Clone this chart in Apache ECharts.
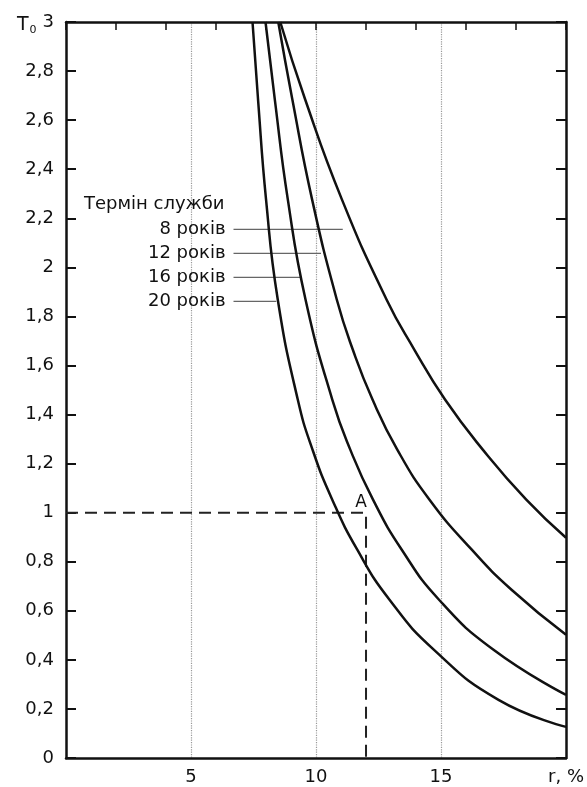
<!DOCTYPE html>
<html>
<head>
<meta charset="utf-8">
<script src="https://cdn.jsdelivr.net/npm/echarts@6/dist/echarts.min.js"></script>
<style>
  html, body { margin: 0; padding: 0; background: #fff; }
  #chart { width: 587px; height: 787px; }
</style>
</head>
<body>
<div id="chart"></div>
<script>
// curves T0(r), one per service life [r %, T0]
var life8 = [[8.57,3.0],[9.56,2.686],[11.03,2.278],[12.82,1.869],[13.93,1.665],[15.16,1.461],
    [16.67,1.257],[18.41,1.053],[20,0.898]];
var life12 = [[8.49,3.0],[9.05,2.686],[9.84,2.278],[10.83,1.869],[11.47,1.665],[12.26,1.461],
    [13.25,1.257],[14.54,1.053],[16.23,0.849],[17.82,0.686],[20,0.502]];
var life16 = [[7.98,3.0],[8.35,2.686],[8.87,2.278],[9.58,1.869],[10.65,1.461],[11.37,1.257],
    [12.28,1.053],[13.43,0.849],[14.92,0.645],[17.1,0.441],[20,0.257]];
var life20 = [[7.46,3.0],[7.68,2.686],[8.0,2.278],[8.47,1.869],[9.27,1.461],[9.86,1.257],
    [10.65,1.053],[11.65,0.849],[12.94,0.645],[14.72,0.441],[17.3,0.237],[20,0.127]];

// legend block
var legendTitle = 'Термін служби';
var legendTitlePos = [3.53, 2.257];
var legendNames = ['8 років', '12 років', '16 років', '20 років'];
var legendY = [2.155, 2.057, 1.959, 1.861];
var leaderStartX = 6.7;
var leaderEndX = [11.07, 10.2, 9.37, 8.41];

// point A and its guide lines
var pointA = [12, 1];
var guideA = [[0, 1], [12, 1], [12, 0]];

var xMin = 0, xMax = 20, xStep = 5, xTopStep = 2;
var yMin = 0, yMax = 3, yStep = 0.2;
var xName = 'r, %';

var ink = '#111';
var font = 'DejaVu Sans';

function curve(name, data) {
    return {
        name: name, type: 'line', data: data, showSymbol: false, smooth: 0.5,
        lineStyle: { color: ink, width: 2.5 }, z: 5
    };
}

var series = [
    curve('8', life8), curve('12', life12), curve('16', life16), curve('20', life20)
];

for (var i = 0; i < legendNames.length; i++) {
    series.push({
        type: 'line', showSymbol: false, silent: true,
        data: [[leaderStartX, legendY[i]], [leaderEndX[i], legendY[i]]],
        lineStyle: { color: '#666', width: 1.3 }, z: 3
    });
}

var textLabel = {
    show: true, color: ink, fontFamily: font, fontSize: 18,
    formatter: function (p) { return p.value[2]; }
};

series.push({
    type: 'scatter', symbolSize: 0, silent: true, itemStyle: { opacity: 1 },
    data: legendNames.map(function (n, i) { return [leaderStartX, legendY[i], n]; }),
    label: Object.assign({ position: 'left', distance: 8 }, textLabel)
});

series.push({
    type: 'scatter', symbolSize: 0, silent: true, itemStyle: { opacity: 1 },
    data: [[legendTitlePos[0], legendTitlePos[1], legendTitle]],
    label: Object.assign({ position: 'inside' }, textLabel)
});

series.push({
    type: 'line', showSymbol: false, silent: true, data: guideA,
    lineStyle: { color: '#222', width: 2, type: [12, 7] }, z: 4
});

series.push({
    type: 'scatter', symbolSize: 0, silent: true, itemStyle: { opacity: 1 }, data: [pointA],
    label: {
        show: true, position: 'top', distance: 0, offset: [-5, -2], formatter: 'A',
        color: ink, fontFamily: font, fontSize: 17
    }
});

var frameLine = { onZero: false, lineStyle: { color: ink, width: 2.5 } };

var chart = echarts.init(document.getElementById('chart'));
chart.setOption({
    animation: false,
    backgroundColor: '#fff',
    title: {
        text: 'T{s|0}', left: 12, top: 10,
        textStyle: {
            color: ink, fontFamily: font, fontSize: 19, fontWeight: 'normal',
            rich: { s: { fontSize: 11, verticalAlign: 'bottom', padding: [10, 0, 0, 1], fontFamily: font, color: ink } }
        }
    },
    grid: { left: 66, right: 16, top: 22, bottom: 29 },
    xAxis: [{
        type: 'value', min: xMin, max: xMax, interval: xStep, position: 'bottom',
        axisLine: frameLine,
        axisTick: { show: false },
        splitLine: { show: true, showMinLine: false, showMaxLine: false, lineStyle: { color: '#999', type: 'dotted', width: 1.2 } },
        axisLabel: {
            color: ink, fontFamily: font, fontSize: 18, margin: 10,
            formatter: function (v) { return v === xMin ? '' : (v === xMax ? xName : String(v)); }
        }
    }, {
        type: 'value', min: xMin, max: xMax, interval: xTopStep, position: 'top',
        axisLine: frameLine,
        axisTick: { inside: true, length: 8, lineStyle: { color: ink, width: 1.5 } },
        splitLine: { show: false }, axisLabel: { show: false }
    }],
    yAxis: [{
        type: 'value', min: yMin, max: yMax, interval: yStep, position: 'left',
        axisLine: Object.assign({ show: true }, frameLine),
        axisTick: { show: true, inside: true, length: 10, lineStyle: { color: ink, width: 2 } },
        splitLine: { show: false },
        axisLabel: {
            color: ink, fontFamily: font, fontSize: 18, margin: 12,
            formatter: function (v) { return String(Math.round(v * 10) / 10).replace('.', ','); }
        }
    }, {
        type: 'value', min: yMin, max: yMax, interval: yStep, position: 'right',
        axisLine: Object.assign({ show: true }, frameLine),
        axisTick: { show: true, inside: true, length: 10, lineStyle: { color: ink, width: 2 } },
        splitLine: { show: false }, axisLabel: { show: false }
    }],
    series: series
});
</script>
</body>
</html>
